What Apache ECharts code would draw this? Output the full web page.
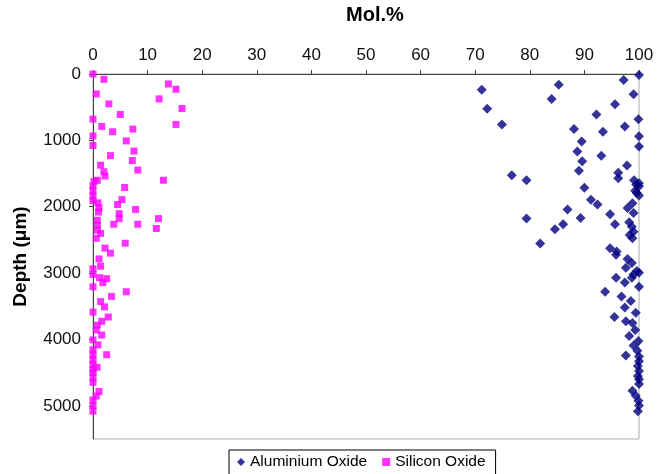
<!DOCTYPE html>
<html>
<head>
<meta charset="utf-8">
<script src="https://cdn.jsdelivr.net/npm/echarts@6/dist/echarts.min.js"></script>
<style>html,body{margin:0;padding:0;background:#fff}#c{width:660px;height:474px}</style>
</head>
<body>
<div id="c"></div>
<script>
const xTicks = [0,10,20,30,40,50,60,70,80,90,100];
const yTicks = [0,1000,2000,3000,4000,5000];

const alValue = [100,97.2,85.3,71.2,99.0,84.0,95.6,72.2,92.2,99.9,74.9,97.4,88.1,93.4,100,89.5,100,88.7,93.1,89.6,97.8,89.0,96.2,76.7,96.2,79.4,99.1,100,99.5,100,90.0,99.3,99.6,100,91.2,98.8,92.4,97.9,86.9,99.0,94.7,89.3,79.4,98.2,86.1,95.6,98.7,84.6,99.0,98.3,98.8,81.9,94.7,95.9,95.8,97.9,98.7,97.6,99.6,100,99.0,98.7,95.8,97.4,100,93.8,96.8,98.5,97.4,99.4,95.5,97.6,98.8,99.3,98.2,99.9,99.0,99.7,97.6,100,100,99.8,100,99.8,100,100,98.8,99.4,99.9,100,99.8];
const alDepth = [15,89,163,237,306,375,455,524,612,682,761,790,830,870,939,1018,1092,1166,1230,1315,1379,1458,1487,1527,1572,1601,1601,1645,1670,1690,1715,1760,1795,1830,1893,1947,1967,2021,2041,2095,2115,2169,2179,2234,2264,2264,2303,2338,2377,2427,2476,2555,2624,2673,2723,2787,2847,2921,2970,2995,3020,3069,3069,3143,3207,3281,3351,3420,3518,3598,3662,3726,3751,3859,3948,4022,4092,4171,4240,4255,4330,4400,4475,4550,4600,4670,4774,4848,4922,4996,5081];

const siValue = [0,2.0,13.8,15.2,0.6,12.1,2.9,16.3,5.0,0,15.2,1.6,7.3,3.6,0,6.1,0,7.5,3.2,7.2,1.4,8.2,2.0,2.2,12.9,0.8,0.2,0,5.8,0,0,5.3,0,0.9,4.5,1.1,7.8,1.0,4.8,4.8,12.0,0.8,3.8,8.2,0.8,11.6,0.8,1.4,0.6,5.9,2.2,3.2,1.1,1.4,0,0,1.2,2.5,1.8,0,6.1,3.4,1.4,2.1,0,2.8,1.6,0.8,0.6,1.6,0,0.9,0,2.5,0,0,0,0.75,0,0,0,0,1.1,0.6,0,0,0];
const siDepth = [0,80,150,230,300,375,450,520,610,680,760,790,830,870,934,1008,1077,1161,1230,1305,1374,1448,1472,1537,1601,1601,1620,1685,1710,1760,1834,1893,1908,1942,1967,2016,2041,2080,2105,2179,2179,2204,2264,2264,2278,2328,2353,2402,2476,2550,2624,2700,2787,2896,2935,3020,3069,3084,3143,3207,3281,3351,3429,3509,3588,3662,3726,3785,3859,3933,4007,4082,4156,4230,4230,4304,4378,4418,4452,4497,4571,4645,4784,4853,4912,4996,5081];

const pair = (v, d) => v.map((x, i) => [x, d[i]]);
const FONT = 'Liberation Sans, Arial, sans-serif';

const chart = echarts.init(document.getElementById('c'), null, {renderer: 'canvas'});
chart.setOption({
  animation: false,
  backgroundColor: '#fff',
  grid: {left: 93, right: 21, top: 69, bottom: 35, show: true, borderColor: '#aaaaaa', borderWidth: 1},
  xAxis: {
    type: 'value', position: 'top', min: xTicks[0], max: xTicks[xTicks.length-1], interval: 10,
    name: 'Mol.%', nameLocation: 'middle', nameGap: 49,
    nameTextStyle: {fontFamily: FONT, fontSize: 20, fontWeight: 'bold', color: '#000', padding: [0, 0, 0, 18]},
    axisLine: {show: true, lineStyle: {color: '#444', width: 1}},
    axisTick: {show: true, length: 4, lineStyle: {color: '#444'}},
    axisLabel: {fontFamily: FONT, fontSize: 17, color: '#111', margin: 10},
    splitLine: {show: false}
  },
  yAxis: {
    type: 'value', inverse: true, min: 0, max: 5500, interval: 1000,
    name: 'Depth (μm)', nameLocation: 'middle', nameGap: 63, nameRotate: 90,
    nameTextStyle: {fontFamily: FONT, fontSize: 19, fontWeight: 'bold', color: '#000'},
    axisLine: {show: true, lineStyle: {color: '#444', width: 1}},
    axisTick: {show: true, length: 4, lineStyle: {color: '#444'}},
    axisLabel: {fontFamily: FONT, fontSize: 17, color: '#111', margin: 12, showMaxLabel: false,
      formatter: v => yTicks.includes(v) ? String(v) : ''},
    splitLine: {show: false}
  },
  legend: {
    top: 450, left: 229,
    data: [{name: 'Aluminium Oxide', icon: 'diamond'}, {name: 'Silicon Oxide', icon: 'rect'}],
    itemWidth: 8, itemHeight: 8, itemGap: 15,
    borderColor: '#000', borderWidth: 1, padding: [4, 10, 10, 8],
    textStyle: {fontFamily: FONT, fontSize: 15.5, color: '#000'}
  },
  series: [
    {name: 'Aluminium Oxide', type: 'scatter', symbol: 'diamond', symbolSize: 10,
     itemStyle: {color: '#000080'}, data: pair(alValue, alDepth)},
    {name: 'Silicon Oxide', type: 'scatter', symbol: 'rect', symbolSize: 7,
     itemStyle: {color: '#ff00ff'}, data: pair(siValue, siDepth)}
  ]
});
</script>
</body>
</html>
